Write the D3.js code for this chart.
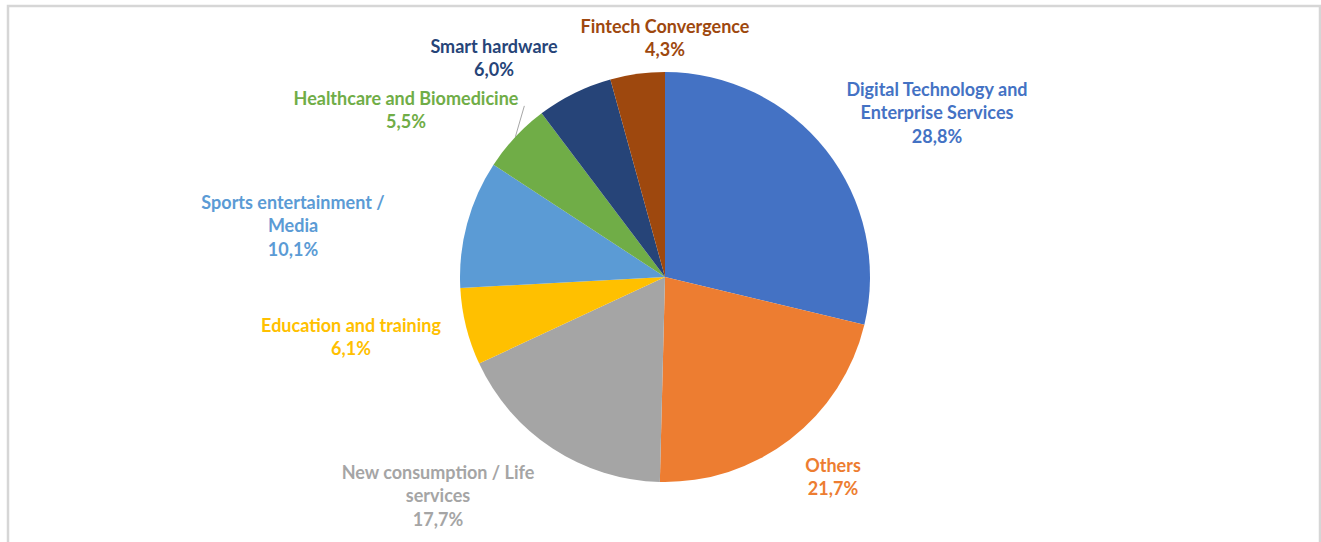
<!DOCTYPE html>
<html>
<head>
<meta charset="utf-8">
<script src="https://cdn.jsdelivr.net/npm/d3@7"></script>
<style>
  html, body { margin: 0; padding: 0; background: #fff; }
  svg { display: block; }
</style>
</head>
<body>
<svg id="chart"></svg>
<script>
// slices, clockwise from 12 o'clock
const categories = [
  "Digital Technology and Enterprise Services",
  "Others",
  "New consumption / Life services",
  "Education and training",
  "Sports entertainment / Media",
  "Healthcare and Biomedicine",
  "Smart hardware",
  "Fintech Convergence"
];
const values = [28.8, 21.7, 17.7, 6.1, 10.1, 5.5, 6.0, 4.3];
const valueLabels = ["28,8%", "21,7%", "17,7%", "6,1%", "10,1%", "5,5%", "6,0%", "4,3%"];
// how the category names are wrapped on the chart
const labelLines = [
  ["Digital Technology and", "Enterprise Services"],
  ["Others"],
  ["New consumption / Life", "services"],
  ["Education and training"],
  ["Sports entertainment /", "Media"],
  ["Healthcare and Biomedicine"],
  ["Smart hardware"],
  ["Fintech Convergence"]
];
const colors = ["#4472C4", "#ED7D31", "#A5A5A5", "#FFC000", "#5B9BD5", "#70AD47", "#264478", "#9E480E"];

// label block centres relative to the pie centre (layout only)
const labelOffsets = [
  [272, -164], [168, 200], [-227, 219], [-314, 60],
  [-372, -51], [-259, -167], [-171, -219], [0, -239]
];

const width = 1321, height = 542;
const cx = 665, cy = 277, radius = 205;
const lineH = 23.5;

const svg = d3.select("#chart").attr("width", width).attr("height", height);

// chart frame
svg.append("rect")
  .attr("x", 8).attr("y", 6)
  .attr("width", 1312).attr("height", 560)
  .attr("fill", "none")
  .attr("stroke", "#d6d6d6")
  .attr("stroke-width", 2.5);

const data = categories.map((c, i) => ({ name: c, value: values[i], i: i }));

const pie = d3.pie().value(d => d.value).sort(null);
const arc = d3.arc().innerRadius(0).outerRadius(radius);
const arcs = pie(data);

const g = svg.append("g").attr("transform", `translate(${cx},${cy})`);

g.selectAll("path.slice")
  .data(arcs)
  .enter().append("path")
    .attr("class", "slice")
    .attr("d", arc)
    .attr("fill", d => colors[d.data.i]);

// leader line for the healthcare slice
const hc = arcs[5];
const mid = (hc.startAngle + hc.endAngle) / 2;
const edge = [Math.sin(mid) * radius, -Math.cos(mid) * radius];
g.append("line")
  .attr("x1", edge[0]).attr("y1", edge[1])
  .attr("x2", edge[0] + 9).attr("y2", edge[1] - 31)
  .attr("stroke", "#a6a6a6")
  .attr("stroke-width", 1);

const labels = g.selectAll("text.label")
  .data(arcs)
  .enter().append("text")
    .attr("class", "label")
    .attr("text-anchor", "middle")
    .attr("font-family", "Lato, 'Open Sans', sans-serif")
    .attr("font-weight", "bold")
    .attr("font-size", 18)
    .attr("fill", d => colors[d.data.i]);

labels.each(function (d) {
  const lines = labelLines[d.data.i].concat([valueLabels[d.data.i]]);
  const off = labelOffsets[d.data.i];
  const top = off[1] - (lines.length - 1) * lineH / 2;
  const t = d3.select(this);
  lines.forEach((s, k) => {
    t.append("tspan")
      .attr("x", off[0])
      .attr("y", top + k * lineH)
      .attr("dy", "0.35em")
      .text(s);
  });
});
</script>
</body>
</html>
